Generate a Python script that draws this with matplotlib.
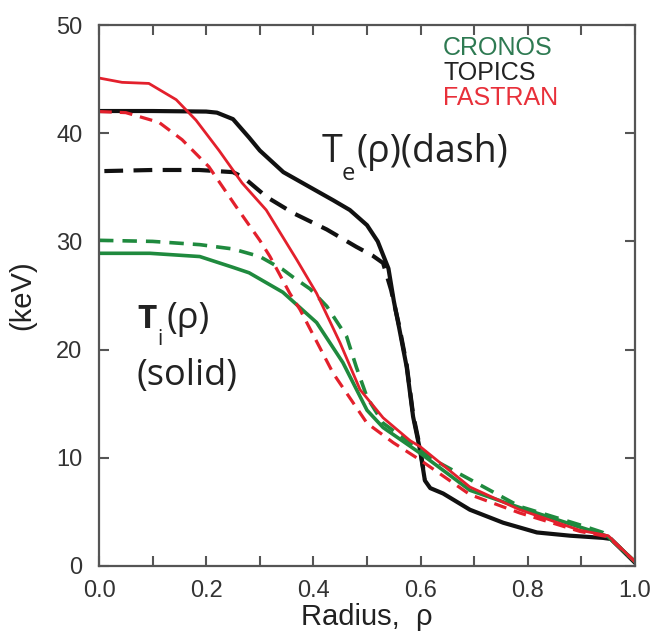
import matplotlib
matplotlib.use("Agg")
import matplotlib.pyplot as plt
from matplotlib.ticker import MultipleLocator, FormatStrFormatter

# TOPICS (black)
topics_ti_rho = [0.0, 0.1, 0.2, 0.22, 0.25, 0.28, 0.30, 0.344, 0.394, 0.437, 0.468, 0.5, 0.52,
                 0.54, 0.55, 0.56, 0.574, 0.586, 0.599, 0.608, 0.618, 0.642, 0.692, 0.754, 0.817,
                 0.879, 0.94, 0.955, 1.0]
topics_ti = [42.05, 42.05, 42.0, 41.9, 41.3, 39.6, 38.4, 36.4, 35.0, 33.8, 32.9, 31.5, 30.0,
             27.5, 24.5, 22.0, 18.4, 13.8, 10.7, 7.9, 7.2, 6.7, 5.2, 4.0, 3.1,
             2.8, 2.6, 2.5, 0.3]
topics_te_rho = [0.01, 0.1, 0.187, 0.25, 0.27, 0.313, 0.363, 0.425, 0.48, 0.51, 0.53, 0.545,
                 0.56, 0.574, 0.586, 0.599, 0.608]
topics_te = [36.5, 36.6, 36.6, 36.4, 35.9, 34.1, 32.6, 31.1, 29.5, 28.7, 28.0, 25.5,
             22.2, 18.6, 14.0, 10.9, 8.0]

# FASTRAN (red)
fastran_ti_rho = [0.0, 0.043, 0.093, 0.144, 0.181, 0.224, 0.267, 0.312, 0.369, 0.406, 0.45,
                  0.487, 0.53, 0.58, 0.6, 0.692, 0.785, 0.897, 0.95, 1.0]
fastran_ti = [45.1, 44.7, 44.6, 43.1, 41.2, 38.4, 35.4, 32.9, 28.3, 25.2, 20.6,
              16.3, 13.7, 11.6, 11.0, 7.3, 5.2, 3.3, 2.8, 0.4]
fastran_te_rho = [0.0, 0.05, 0.112, 0.155, 0.205, 0.256, 0.30, 0.319, 0.356, 0.375, 0.437,
                  0.5, 0.549, 0.599, 0.692, 0.785, 0.897, 0.95, 1.0]
fastran_te = [42.0, 41.9, 41.0, 39.4, 36.9, 33.2, 30.1, 28.6, 25.2, 23.7, 17.8,
              13.2, 11.4, 9.8, 6.6, 4.9, 3.2, 2.7, 0.4]

# CRONOS (green)
cronos_ti_rho = [0.0, 0.095, 0.188, 0.25, 0.28, 0.343, 0.406, 0.455, 0.5, 0.53, 0.6, 0.692,
                 0.785, 0.897, 0.935, 0.95, 1.0]
cronos_ti = [28.9, 28.9, 28.6, 27.6, 27.1, 25.3, 22.5, 18.8, 14.4, 12.8, 10.4, 7.0,
             5.4, 3.6, 3.0, 2.7, 0.4]
cronos_te_rho = [0.0, 0.1, 0.188, 0.25, 0.3, 0.343, 0.362, 0.394, 0.425, 0.462, 0.48, 0.5,
                 0.53, 0.6, 0.636, 0.692, 0.785, 0.897, 0.94, 0.95, 1.0]
cronos_te = [30.1, 30.0, 29.7, 29.3, 28.6, 27.4, 26.7, 25.6, 24.0, 21.2, 18.4, 15.6,
             13.2, 10.7, 9.5, 8.0, 5.5, 3.8, 3.1, 2.7, 0.4]

codes = ["CRONOS", "TOPICS", "FASTRAN"]
code_colors = ["#2e7a52", "#222222", "#e8303a"]

BLACK = "#111111"
RED = "#e3202c"
GREEN = "#1f8a3e"

W, H = 656, 635
fig = plt.figure(figsize=(W / 100, H / 100), dpi=100)
ax = fig.add_axes([99 / W, 1 - 566 / H, 536 / W, 541 / H])

ax.plot(topics_te_rho, topics_te, color=BLACK, lw=3.0, dashes=(4.5, 2.5))
ax.plot(topics_ti_rho, topics_ti, color=BLACK, lw=3.0)
ax.plot(cronos_te_rho, cronos_te, color=GREEN, lw=2.6, dashes=(4, 2.5))
ax.plot(cronos_ti_rho, cronos_ti, color=GREEN, lw=2.6)
ax.plot(fastran_te_rho, fastran_te, color=RED, lw=2.3, dashes=(4, 2.5))
ax.plot(fastran_ti_rho, fastran_ti, color=RED, lw=2.0)

ax.set_xlim(0, 1.0)
ax.set_ylim(0, 50)
ax.xaxis.set_major_locator(MultipleLocator(0.2))
ax.xaxis.set_minor_locator(MultipleLocator(0.1))
ax.yaxis.set_major_locator(MultipleLocator(10))
ax.xaxis.set_major_formatter(FormatStrFormatter("%.1f"))

for sp in ax.spines.values():
    sp.set_color("#555555")
    sp.set_linewidth(1.6)
ax.tick_params(which="both", direction="in", top=True, right=True, length=7, width=1.5,
               color="#555555", labelsize=17, labelcolor="#333333")
ax.tick_params(axis="x", pad=10)
ax.tick_params(axis="y", pad=12)
for lab in ax.get_xticklabels() + ax.get_yticklabels():
    lab.set_fontfamily("Liberation Sans")

ax.set_xlabel("Radius,  ρ", fontsize=21, family="Liberation Sans", color="#222222", labelpad=1)
ax.set_ylabel("(keV)", fontsize=21, family="Liberation Sans", color="#222222", labelpad=14)

# code names, coloured like their curves
for i, (name, col) in enumerate(zip(codes, code_colors)):
    fig.text(443 / W, 1 - (55 + 25 * i) / H, name, color=col, fontsize=18,
             family="Liberation Sans", va="baseline")


def ptext(x, y, s, **kw):
    fig.text(x / W, 1 - y / H, s, va="baseline", color="#222222", **kw)


# T_e(rho)(dash)
ptext(322, 162, "T", fontsize=27, family="Open Sans")
ptext(342, 180, "e", fontsize=17, family="Open Sans")
ptext(356, 162, "(ρ)(dash)", fontsize=27, family="Open Sans")

# T_i(rho) (solid)
ptext(137, 328, "T", fontsize=24, family="Open Sans", weight="bold")
ptext(157, 345, "i", fontsize=15, family="Open Sans")
ptext(166, 328, "(ρ)", fontsize=26, family="Open Sans")
ptext(137, 385, "(solid)", fontsize=26, family="Open Sans")

fig.savefig("out.png", dpi=100)
